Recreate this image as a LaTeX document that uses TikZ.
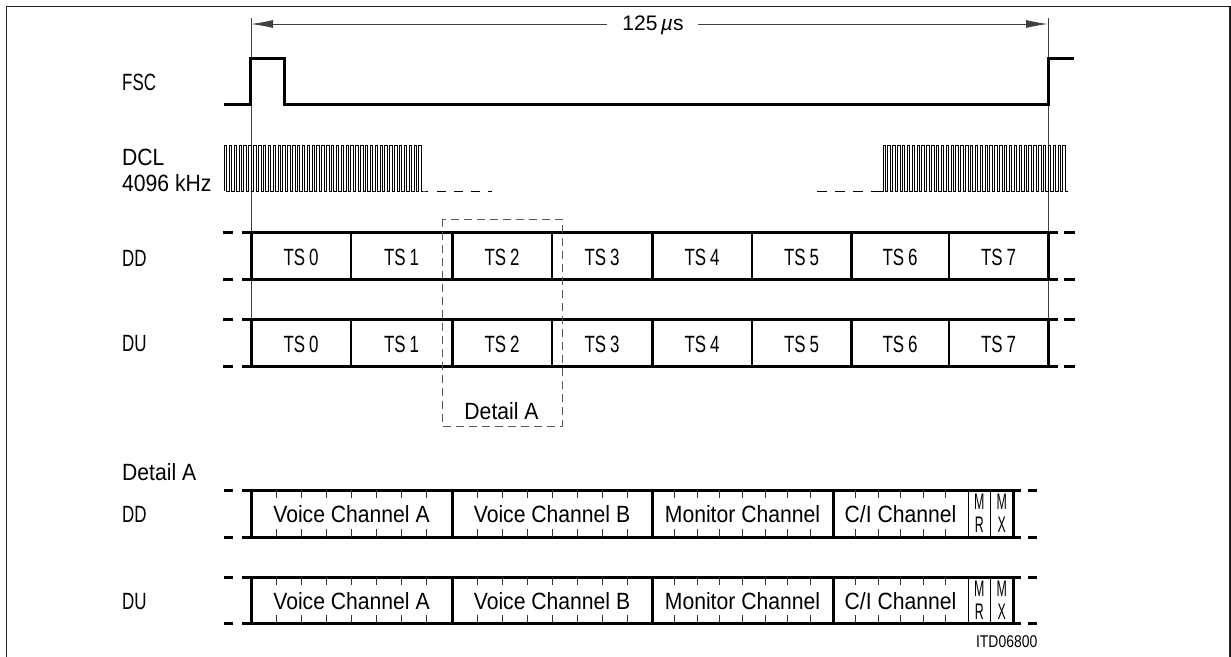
\documentclass[tikz,border=0pt]{standalone}
\usepackage{fontspec}
\setmainfont{Liberation Sans}[FakeStretch=0.9]
\newfontfamily\narrowfont{Liberation Sans}[FakeStretch=0.72]
\newfontfamily\itdfont{Liberation Sans}[FakeStretch=0.82]
\newfontfamily\mrfont{Liberation Sans}[FakeStretch=0.55]
\newfontfamily\plainfont{Liberation Sans}
\usetikzlibrary{arrows.meta}
\tikzset{
  lbl/.style={font=\fontsize{23.5}{26}\selectfont, inner sep=0pt},
  nlbl/.style={font=\narrowfont\fontsize{23.5}{26}\selectfont, inner sep=0pt},
  mrlbl/.style={font=\mrfont\fontsize{22.5}{24}\selectfont, inner sep=0pt, anchor=base},
  sig/.style={line width=3pt, line join=miter},
  rowline/.style={line width=3pt},
  thickdiv/.style={line width=3pt},
  thindiv/.style={line width=1.8pt},
  hairdiv/.style={line width=1pt},
  tick/.style={line width=0.8pt, black!80},
  refline/.style={line width=0.9pt, black!75},
  clk/.style={line width=0.9pt},
  detailbox/.style={line width=0.9pt, black!65, dash pattern=on 8pt off 5pt},
  frameline/.style={line width=1.8pt, black!88},
}
\begin{document}
\begin{tikzpicture}[x=1pt,y=-1pt]
\useasboundingbox (0,0) rectangle (1231,656);
% frame
\draw[frameline] (6.5,700) -- (6.5,6.5) -- (1229.8,6.5) -- (1229.8,700);

% reference lines
\coordinate (rl1) at (251,18); \coordinate (rl1b) at (251,366);
\coordinate (rl2) at (1048,18); \coordinate (rl2b) at (1048,366);
\draw[refline] (rl1) -- (rl1b);
\draw[refline] (rl2) -- (rl2b);

% 125 us dimension
\coordinate (al) at (251,24);
\coordinate (ar) at (1048,24);
\draw[refline, {Latex[length=22pt,width=8pt]}-{Latex[length=22pt,width=8pt]}] (al) -- (ar);
\fill[white] (607,14) rectangle (698,34);
\node[font=\plainfont\fontsize{21}{24}\selectfont, inner sep=0pt, anchor=base] (period) at (653,30) {125\,{\itshape µ}s};

% FSC
\node[nlbl, anchor=base west] (fsc) at (122,90) {FSC};
\draw[sig] (224,104) -- (250,104) -- (250,58) -- (284,58) -- (284,104) -- (1048,104) -- (1048,58) -- (1074,58);

% DCL
\node[lbl, anchor=base west] (dcl) at (122,165) {DCL};
\node[lbl, anchor=base west] (dclf) at (122,191.7) {4096 kHz};
\draw[clk] (224.5,191) \foreach \i in {1,...,41}{ -- ++(0,-46) -- ++(2.43,0) -- ++(0,46) -- ++(2.43,0) } -- (428,191);
\draw[clk, dash pattern=on 9pt off 8pt] (437,191) -- (492,191);
\draw[clk, dash pattern=on 10pt off 8pt] (817,191) -- (877,191);
\draw[clk] (877,191) -- (883,191) \foreach \i in {1,...,38}{ -- ++(0,-46) -- ++(2.43,0) -- ++(0,46) -- ++(2.43,0) };

% DD / DU rows
\node[nlbl, anchor=base west] (ddl) at (122,266.7) {DD};
\node[nlbl, anchor=base west] (dul) at (122,351.7) {DU};
\foreach \yt/\yb in {232/279, 319/366}{
  \draw[rowline] (242,\yt) -- (1058,\yt);
  \draw[rowline] (242,\yb) -- (1058,\yb);
  \draw[rowline] (223,\yt) -- (233,\yt);
  \draw[rowline] (223,\yb) -- (233,\yb);
  \draw[rowline] (1064,\yt) -- (1075,\yt);
  \draw[rowline] (1064,\yb) -- (1075,\yb);
  \foreach \x in {251,452,652,851,1048}{ \draw[thickdiv] (\x,\yt) -- (\x,\yb); }
  \foreach \x in {351,552,752,949}{ \draw[thindiv] (\x,\yt) -- (\x,\yb); }
}
\foreach \n/\a/\b in {0/251/351,1/351/452,2/452/552,3/552/652,4/652/752,5/752/851,6/851/949,7/949/1048}{
  \node[nlbl, anchor=base] (dd\n) at ({(\a+\b)/2},265.7) {TS\,\n};
  \node[nlbl, anchor=base] (du\n) at ({(\a+\b)/2},352.5) {TS\,\n};
}

% Detail A box
\draw[detailbox] (442,219) rectangle (562,426);
\node[lbl, anchor=base] (detlbl) at (501.5,419) {Detail A};

% Detail A rows
\node[lbl, anchor=base west] (detA) at (122,480.7) {Detail A};
\node[nlbl, anchor=base west] (ddl2) at (122,522.7) {DD};
\node[nlbl, anchor=base west] (dul2) at (122,609.3) {DU};
\foreach \yt/\yb/\r in {490/537/a, 577/623/b}{
  \draw[rowline] (242,\yt) -- (1021,\yt);
  \draw[rowline] (242,\yb) -- (1021,\yb);
  \draw[rowline] (224,\yt) -- (233,\yt);
  \draw[rowline] (224,\yb) -- (233,\yb);
  \draw[rowline] (1028,\yt) -- (1037,\yt);
  \draw[rowline] (1028,\yb) -- (1037,\yb);
  % ticks
  \foreach \k in {1,...,7}{
    \draw[tick] ({251+25.125*\k},\yt) -- ++(0,8);
    \draw[tick] ({251+25.125*\k},\yb) -- ++(0,-8);
    \draw[tick] ({452+25*\k},\yt) -- ++(0,8);
    \draw[tick] ({452+25*\k},\yb) -- ++(0,-8);
    \draw[tick] ({652+22.625*\k},\yt) -- ++(0,8);
    \draw[tick] ({652+22.625*\k},\yb) -- ++(0,-8);
  }
  \foreach \k in {1,...,5}{
    \draw[tick] ({833+22.5*\k},\yt) -- ++(0,8);
    \draw[tick] ({833+22.5*\k},\yb) -- ++(0,-8);
  }
  \foreach \x in {251,452,652,833,1013}{ \draw[thickdiv] (\x,\yt) -- (\x,\yb); }
  \foreach \x in {968,990.5}{ \draw[hairdiv] (\x,\yt) -- (\x,\yb); }
  \node[lbl, anchor=base] (va\r) at (351.5,{\yt+32.7}) {Voice Channel A};
  \node[lbl, anchor=base] (vb\r) at (552,{\yt+32.7}) {Voice Channel B};
  \node[lbl, anchor=base] (mon\r) at (742.5,{\yt+32.7}) {Monitor Channel};
  \node[lbl, anchor=base] (ci\r) at (900.5,{\yt+32.7}) {C/I Channel};
  \node[mrlbl] (mrm\r) at (979.3,{\yt+19.3}) {M};
  \node[mrlbl] (mrr\r) at (979.3,{\yt+42.7}) {R};
  \node[mrlbl] (mxm\r) at (1001.8,{\yt+19.3}) {M};
  \node[mrlbl] (mxx\r) at (1001.8,{\yt+42.7}) {X};
}

\node[font=\itdfont\fontsize{17}{20}\selectfont, inner sep=0pt, anchor=base east] (itd) at (1037.5,647.3) {ITD06800};
\end{tikzpicture}
\end{document}
